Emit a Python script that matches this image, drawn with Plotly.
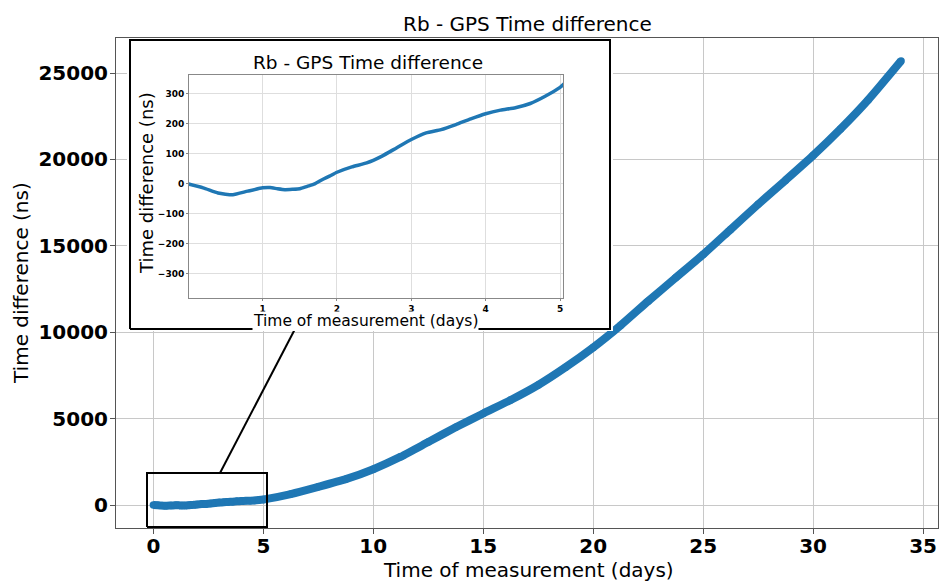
import plotly.graph_objects as go

# ---------------- data ----------------
days = [0, 0.2, 0.4, 0.5, 0.6, 0.8, 1.0, 1.1, 1.2, 1.3, 1.4, 1.5, 1.6, 1.7, 1.8,
        1.9, 2.0, 2.2, 2.4, 2.6, 2.8, 3.0, 3.2, 3.4, 3.6, 3.8, 4.0, 4.2, 4.4, 4.6,
        4.8, 5.0, 5.04, 6.25, 7.5, 8.75, 10, 11.25, 12.5, 13.75, 15, 16.25, 17.5,
        18.75, 20, 21.25, 22.5, 23.75, 25, 26.25, 27.5, 28.75, 30, 31.25, 32.5, 34.0]
time_diff_ns = [0, -13, -30, -34, -36, -24, -13, -12, -16, -19, -18, -16, -8, 0, 14,
                26, 39, 57, 70, 92, 120, 148, 170, 181, 198, 217, 234, 246, 254, 268,
                292, 322, 330, 640, 1056, 1500, 2077, 2800, 3650, 4500, 5300, 6080, 6950,
                7980, 9120, 10400, 11800, 13150, 14500, 15950, 17400, 18800, 20225, 21765,
                23440, 25700]

main_xticks = [0, 5, 10, 15, 20, 25, 30, 35]
main_yticks = [0, 5000, 10000, 15000, 20000, 25000]
inset_xticks = [1, 2, 3, 4, 5]
inset_yticks = [-300, -200, -100, 0, 100, 200, 300]

title_text = "Rb - GPS Time difference"
xlabel_text = "Time of measurement (days)"
ylabel_text = "Time difference (ns)"

# ---------------- geometry / styles ----------------
W, H = 944, 583
L, R, T, B = 116, 938, 38, 528          # main plot area in px
PW, PH = R - L, B - T


def px(xp):
    return (xp - L) / PW


def py(yp):
    return (B - yp) / PH


BLUE = "#1f77b4"
FONT = "DejaVu Sans"
MAIN_XR = [-1.7, 35.68]
MAIN_YR = [-1325, 27025]


def dx(xp):
    return MAIN_XR[0] + (xp - L) / PW * (MAIN_XR[1] - MAIN_XR[0])


def dy(yp):
    return MAIN_YR[1] - (yp - T) / PH * (MAIN_YR[1] - MAIN_YR[0])


fig = go.Figure()

# main curve
fig.add_trace(go.Scatter(x=days, y=time_diff_ns, mode="lines+markers",
                         line=dict(color=BLUE, width=8, shape="spline", smoothing=0.6),
                         marker=dict(color=BLUE, size=7.5),
                         xaxis="x", yaxis="y", showlegend=False, hoverinfo="skip"))

# zoom rectangle on main axes
zx0, zx1, zy0, zy1 = dx(147), dx(267), dy(527), dy(473)
fig.add_trace(go.Scatter(x=[zx0, zx1, zx1, zx0, zx0], y=[zy0, zy0, zy1, zy1, zy0],
                         mode="lines", line=dict(color="black", width=2),
                         xaxis="x", yaxis="y", showlegend=False, hoverinfo="skip"))
# connector line
fig.add_trace(go.Scatter(x=[dx(220), dx(295)], y=[dy(473), dy(329)],
                         mode="lines", line=dict(color="black", width=2),
                         xaxis="x", yaxis="y", showlegend=False, hoverinfo="skip"))

# white inset box (subplot 2)
bx0, bx1, by0, by1 = 127, 613, 38, 331
padx_l, padx_r = (130 - bx0) / 480, (bx1 - 610) / 480
pady_b, pady_t = (by1 - 329) / 289, (40 - by0) / 289
fig.add_trace(go.Scatter(x=[0, 1, 1, 0, 0], y=[0, 0, 1, 1, 0], mode="lines",
                         fill="toself", fillcolor="white",
                         line=dict(color="black", width=2),
                         xaxis="x2", yaxis="y2", showlegend=False, hoverinfo="skip"))

# inset curve (subplot 3)
fig.add_trace(go.Scatter(x=days, y=time_diff_ns, mode="lines",
                         line=dict(color=BLUE, width=3.5, shape="spline", smoothing=0.5),
                         xaxis="x3", yaxis="y3", showlegend=False, hoverinfo="skip"))

GRID = "#c8c8c8"
fig.update_layout(
    width=W, height=H,
    margin=dict(l=L, r=W - R, t=T, b=H - B),
    paper_bgcolor="white", plot_bgcolor="white",
    font=dict(family=FONT, color="black"),
    xaxis=dict(domain=[0, 1], range=MAIN_XR, tickvals=main_xticks,
               tickfont=dict(size=20, weight="bold", family=FONT, color="black"),
               showgrid=True, gridcolor=GRID, gridwidth=1, zeroline=False,
               showline=True, linecolor="#555", linewidth=1, mirror=True,
               ticks="outside", ticklen=5, tickcolor="#555", ticklabelstandoff=-5),
    yaxis=dict(domain=[0, 1], range=MAIN_YR, tickvals=main_yticks, tickformat="d",
               tickfont=dict(size=20, weight="bold", family=FONT, color="black"),
               showgrid=True, gridcolor=GRID, gridwidth=1, zeroline=False,
               showline=True, linecolor="#555", linewidth=1, mirror=True,
               ticks="outside", ticklen=5, tickcolor="#555", ticklabelstandoff=-2),
    xaxis2=dict(domain=[px(bx0), px(bx1)], range=[-padx_l, 1 + padx_r],
                visible=False, anchor="y2"),
    yaxis2=dict(domain=[py(by1), py(by0)], range=[-pady_b, 1 + pady_t],
                visible=False, anchor="x2"),
    xaxis3=dict(domain=[px(189), px(563)], range=[0.01, 5.04], anchor="y3",
                tickvals=inset_xticks,
                tickfont=dict(size=9, weight="bold", family=FONT, color="black"),
                showgrid=True, gridcolor="#dedede", zeroline=False,
                showline=True, linecolor="#888", linewidth=1, mirror=True,
                ticks="outside", ticklen=2, tickcolor="#888"),
    yaxis3=dict(domain=[py(298), py(75)], range=[-380, 363], anchor="x3",
                tickvals=inset_yticks,
                tickfont=dict(size=9, weight="bold", family=FONT, color="black"),
                showgrid=True, gridcolor="#dedede", zeroline=False,
                showline=True, linecolor="#888", linewidth=1, mirror=True,
                ticks="outside", ticklen=2, tickcolor="#888"),
)

ann = [
    dict(text=title_text, x=px(527), y=py(24), size=20, angle=0, bg=None),
    dict(text=xlabel_text, x=px(528), y=py(570), size=20, angle=0, bg=None),
    dict(text=ylabel_text, x=px(21), y=py(283), size=20, angle=-90, bg=None),
    dict(text=title_text, x=px(368), y=py(63), size=18.5, angle=0, bg=None),
    dict(text=ylabel_text, x=px(146), y=py(183), size=18, angle=-90, bg=None),
    dict(text=xlabel_text, x=px(365), y=py(321), size=15.5, angle=0, bg="white"),
]
for a in ann:
    kw = dict(text=a["text"], x=a["x"], y=a["y"], xref="paper", yref="paper",
              xanchor="center", yanchor="middle", showarrow=False,
              textangle=a["angle"], font=dict(family=FONT, size=a["size"], color="black"))
    if a["bg"]:
        kw.update(bgcolor=a["bg"], borderpad=0)
    fig.add_annotation(**kw)

fig.write_html("out.html")
